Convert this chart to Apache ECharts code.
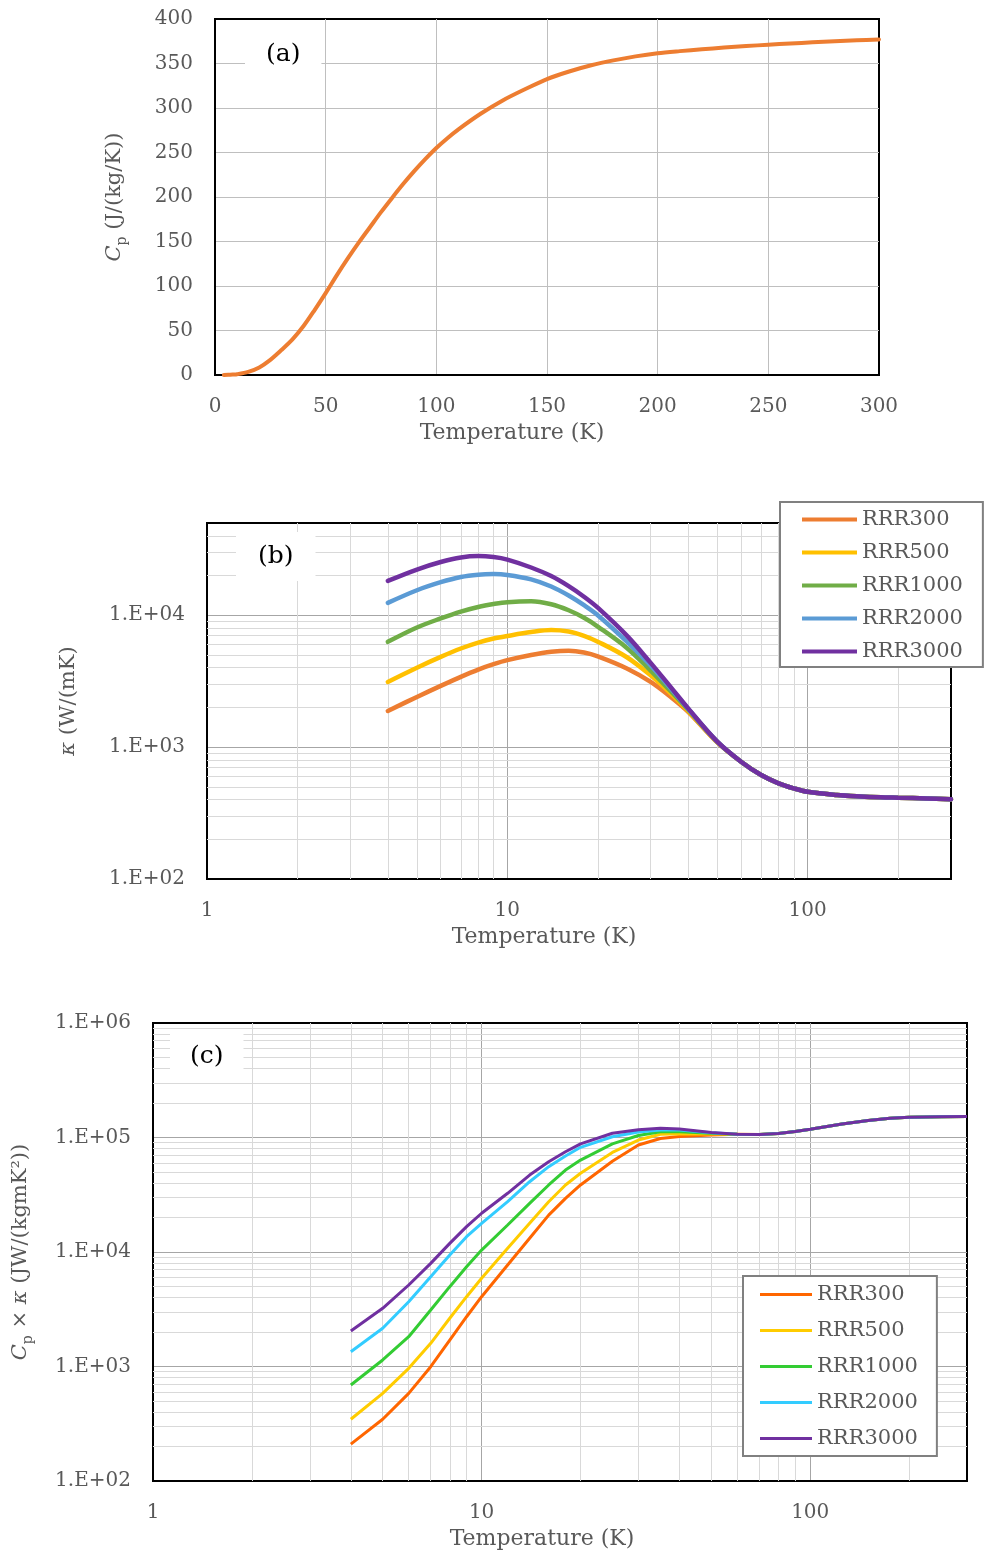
<!DOCTYPE html>
<html>
<head>
<meta charset="utf-8">
<script src="https://cdn.jsdelivr.net/npm/echarts@6/dist/echarts.min.js"></script>
<style>
  html, body { margin: 0; padding: 0; background: #fff; }
  #wrap { position: relative; width: 985px; height: 1557px; }
  .chart { position: absolute; left: 0; width: 985px; }
  #ca { top: 0; height: 470px; }
  #cb { top: 470px; height: 500px; }
  #cc { top: 970px; height: 587px; }
</style>
</head>
<body>
<div id="wrap">
  <div id="ca" class="chart"></div>
  <div id="cb" class="chart"></div>
  <div id="cc" class="chart"></div>
</div>
<script>
// ---- (a) specific heat Cp vs temperature ----
const cpTemp = [4, 6, 8, 10, 15, 20, 25, 30, 35, 40, 45, 50, 55, 60, 65, 70, 75, 80, 85, 90, 95, 100, 105,
  110, 120, 130, 140, 150, 160, 170, 180, 190, 200, 210, 220, 230, 240, 250, 260, 270, 280, 290, 300];
const cpValues = [0.1, 0.2, 0.5, 0.9, 3.5, 8.5, 17, 28, 40, 55, 73, 92, 112, 131, 149, 166, 183, 199, 214.5, 229, 242.5, 255, 266,
  276, 293.5, 308.5, 321, 332.5, 341, 348, 353.5, 358, 361.5, 363.9, 366, 367.9, 369.6, 371.1, 372.5, 373.8, 375, 376.1, 377];

// ---- (b) thermal conductivity kappa vs temperature ----
const rrrNames = ['RRR300', 'RRR500', 'RRR1000', 'RRR2000', 'RRR3000'];
const kTemp = [4, 5, 6, 7, 8, 9, 10, 12, 14, 16, 18, 20, 25, 30, 35, 40, 50,
  60, 70, 80, 90, 100, 125, 150, 175, 200, 250, 300];
const kRRR300 = [1880, 2400, 2910, 3410, 3870, 4250, 4560, 4990, 5280, 5380, 5220, 4880, 3950, 3120, 2400, 1850, 1085,
  775, 614, 531, 486, 458, 433, 422, 416, 413, 408, 403];
const kRRR500 = [3120, 4000, 4830, 5590, 6200, 6650, 6960, 7450, 7720, 7520, 6980, 6300, 4800, 3500, 2550, 1880, 1090,
  775, 614, 531, 486, 458, 433, 422, 416, 413, 408, 403];
const kRRR1000 = [6280, 8070, 9450, 10650, 11550, 12150, 12550, 12750, 12100, 10900, 9550, 8200, 5650, 3800, 2650, 1920, 1095,
  775, 614, 531, 486, 458, 433, 422, 416, 413, 408, 403];
const kRRR2000 = [12400, 15460, 17800, 19500, 20300, 20500, 20200, 18700, 16500, 14100, 11900, 10000, 6300, 4150, 2780, 1950, 1100,
  775, 614, 531, 486, 458, 433, 422, 416, 413, 408, 403];
const kRRR3000 = [18200, 22200, 25300, 27400, 28100, 27600, 26400, 23000, 19800, 16600, 13800, 11400, 7000, 4350, 2850, 1965, 1100,
  775, 614, 531, 486, 458, 433, 422, 416, 413, 408, 403];

// ---- (c) product Cp x kappa vs temperature ----
const pTemp = [4, 5, 6, 7, 8, 9, 10, 12, 14, 16, 18, 20, 25, 30, 35, 40, 50,
  60, 70, 80, 90, 100, 125, 150, 175, 200, 250, 300];
const pRRR300 = [210, 346, 583, 996, 1700, 2720, 4070, 7700, 13200, 21000, 29400, 38500, 62000, 86000, 98000, 102000, 105000,
  106500, 106000, 108500, 113000, 118000, 131000, 141000, 147000, 150000, 152000, 152500];
const pRRR500 = [346, 583, 964, 1595, 2640, 4070, 5890, 10770, 17800, 27500, 38500, 48700, 74000, 95000, 106700, 108000, 107500,
  106500, 106000, 108500, 113000, 118000, 131000, 141000, 147000, 150000, 152000, 152500];
const pRRR1000 = [689, 1140, 1820, 3115, 4980, 7440, 10400, 17200, 26600, 38500, 52000, 63500, 88000, 104000, 112400, 112500, 109000,
  106500, 106000, 108500, 113000, 118000, 131000, 141000, 147000, 150000, 152000, 152500];
const pRRR2000 = [1346, 2155, 3680, 6080, 9420, 13600, 17800, 27500, 41100, 55600, 68900, 82100, 101600, 111500, 116400, 116000, 110000,
  106500, 106000, 108500, 113000, 118000, 131000, 141000, 147000, 150000, 152000, 152500];
const pRRR3000 = [2042, 3223, 5150, 7960, 11900, 16650, 21800, 32560, 47000, 61500, 75100, 88000, 109000, 117000, 120300, 118600, 110500,
  106500, 106000, 108500, 113000, 118000, 131000, 141000, 147000, 150000, 152000, 152500];

// Minor grid positions on the logarithmic axes
const minorTempTicks = [2, 3, 4, 5, 6, 7, 8, 9, 20, 30, 40, 50, 60, 70, 80, 90, 200];
const minorKTicks = [200, 300, 400, 500, 600, 700, 800, 900, 2000, 3000, 4000, 5000, 6000, 7000, 8000, 9000, 20000, 30000, 40000];
const minorPTicks = [200, 300, 400, 500, 600, 700, 800, 900, 2000, 3000, 4000, 5000, 6000, 7000, 8000, 9000,
  20000, 30000, 40000, 50000, 60000, 70000, 80000, 90000, 200000, 300000, 400000, 500000, 600000, 700000, 800000, 900000];

const FONT = 'DejaVu Serif';
const GREY = '#595959';
const colorsB = ['#ED7D31', '#FFC000', '#70AD47', '#5B9BD5', '#7030A0'];
const colorsC = ['#FF6600', '#FFCC00', '#33CC33', '#33CCFF', '#7030A0'];

function pairs(xs, ys) { return xs.map((x, i) => [x, ys[i]]); }

function isPow10(v) {
  const e = Math.log10(v);
  return Math.abs(e - Math.round(e)) < 1e-6;
}
function sciLabel(v) {
  if (!isPow10(v)) return '';
  const r = Math.round(Math.log10(v));
  return '1.E+' + (r < 10 ? '0' + r : String(r));
}
function tempLogLabel(v) {
  return isPow10(v) ? String(Math.round(v)) : '';
}

const labelStyle = { fontFamily: FONT, fontSize: 20, color: GREY };
const nameRich = {
  n: { fontFamily: FONT, fontSize: 21, color: GREY, lineHeight: 28 },
  i: { fontFamily: FONT, fontSize: 21, color: GREY, fontStyle: 'italic', lineHeight: 28 },
  s: { fontFamily: FONT, fontSize: 14, color: GREY, verticalAlign: 'bottom', lineHeight: 13 }
};

function gridSeries(xTicks, yTicks) {
  return {
    type: 'line', data: [], silent: true, z: 1,
    markLine: {
      silent: true, symbol: ['none', 'none'], animation: false, z: 1,
      label: { show: false },
      emphasis: { disabled: true },
      lineStyle: { color: '#d9d9d9', width: 1, type: 'solid' },
      data: xTicks.map(v => ({ xAxis: v })).concat(yTicks.map(v => ({ yAxis: v })))
    }
  };
}

function panelTitle(text, left, top, padding) {
  return {
    text: text, left: left, top: top, padding: padding,
    backgroundColor: '#fff',
    textStyle: { fontFamily: FONT, fontSize: 25, fontWeight: 'normal', color: '#000' }
  };
}

function tempAxisName(padRight) {
  return {
    name: 'Temperature (K)', nameLocation: 'middle', nameGap: 46,
    nameTextStyle: { fontFamily: FONT, fontSize: 22, color: GREY, padding: [0, padRight, 0, 0] }
  };
}

// ---------- chart (a) ----------
const chartA = echarts.init(document.getElementById('ca'));
chartA.setOption({
  animation: false,
  title: panelTitle('(a)', 245, 35, [7, 21, 3, 21]),
  grid: { left: 215, right: 106, top: 19, bottom: 95, show: true, borderColor: '#000', borderWidth: 2 },
  xAxis: Object.assign({
    type: 'value', min: 0, max: 300, interval: 50,
    axisLine: { show: true, lineStyle: { color: '#000', width: 2 } },
    axisTick: { show: false },
    axisLabel: Object.assign({ margin: 22 }, labelStyle),
    splitLine: { show: true, showMinLine: false, showMaxLine: false, lineStyle: { color: '#bfbfbf', width: 1 } }
  }, tempAxisName(70)),
  yAxis: {
    type: 'value', min: 0, max: 400, interval: 50,
    name: '{i|C}{s|p}{n| (J/(kg/K))}', nameLocation: 'middle', nameGap: 86, nameRotate: 90,
    nameTextStyle: { rich: nameRich },
    axisLine: { show: true, lineStyle: { color: '#000', width: 2 } },
    axisTick: { show: false },
    axisLabel: Object.assign({ margin: 22 }, labelStyle),
    splitLine: { show: true, showMinLine: false, showMaxLine: false, lineStyle: { color: '#bfbfbf', width: 1 } }
  },
  series: [{
    type: 'line', data: pairs(cpTemp, cpValues), smooth: 0.3,
    showSymbol: false, symbol: 'none',
    lineStyle: { color: '#ED7D31', width: 4, cap: 'round' }, z: 3
  }]
});

// ---------- chart (b) ----------
const kSeries = [kRRR300, kRRR500, kRRR1000, kRRR2000, kRRR3000];
const chartB = echarts.init(document.getElementById('cb'));
chartB.setOption({
  animation: false,
  title: panelTitle('(b)', 236, 62, [12, 22, 12, 22]),
  legend: {
    data: rrrNames, orient: 'vertical', left: 780, top: 32,
    backgroundColor: '#fff', borderColor: '#808080', borderWidth: 2, borderRadius: 0,
    padding: [7, 20, 5, 22], itemGap: 12, itemWidth: 55, itemHeight: 4, icon: 'rect',
    textStyle: { fontFamily: FONT, fontSize: 21, color: GREY }
  },
  grid: { left: 207, right: 34, top: 53, bottom: 91, show: true, borderColor: '#000', borderWidth: 2 },
  xAxis: Object.assign({
    type: 'log', logBase: 10, min: 1, max: 300,
    axisLine: { show: true, lineStyle: { color: '#000', width: 2 } },
    axisTick: { show: false },
    axisLabel: Object.assign({ margin: 22, formatter: tempLogLabel, showMaxLabel: false }, labelStyle),
    splitLine: { show: true, showMinLine: false, showMaxLine: false, lineStyle: { color: '#a6a6a6', width: 1 } }
  }, tempAxisName(70)),
  yAxis: {
    type: 'log', logBase: 10, min: 100, max: 50000,
    name: '{i|κ}{n| (W/(mK)}', nameLocation: 'middle', nameGap: 124, nameRotate: 90,
    nameTextStyle: { rich: nameRich },
    axisLine: { show: true, lineStyle: { color: '#000', width: 2 } },
    axisTick: { show: false },
    axisLabel: Object.assign({ margin: 22, formatter: sciLabel, showMaxLabel: false }, labelStyle),
    splitLine: { show: true, showMinLine: false, showMaxLine: false, lineStyle: { color: '#a6a6a6', width: 1 } }
  },
  series: [gridSeries(minorTempTicks, minorKTicks)].concat(kSeries.map((vals, i) => ({
    name: rrrNames[i], type: 'line', data: pairs(kTemp, vals), smooth: 0.35,
    showSymbol: false, symbol: 'none', z: 3,
    itemStyle: { color: colorsB[i] },
    lineStyle: { color: colorsB[i], width: 4.5, cap: 'round' }
  })))
});

// ---------- chart (c) ----------
const pSeries = [pRRR300, pRRR500, pRRR1000, pRRR2000, pRRR3000];
const chartC = echarts.init(document.getElementById('cc'));
chartC.setOption({
  animation: false,
  title: panelTitle('(c)', 170, 64, [10, 20, 10, 20]),
  legend: {
    data: rrrNames, orient: 'vertical', left: 743, top: 306,
    backgroundColor: '#fff', borderColor: '#808080', borderWidth: 2, borderRadius: 0,
    padding: [8, 19, 7, 17], itemGap: 15, itemWidth: 52, itemHeight: 3, icon: 'rect',
    textStyle: { fontFamily: FONT, fontSize: 21, color: GREY }
  },
  grid: { left: 153, right: 18, top: 53, bottom: 76, show: true, borderColor: '#000', borderWidth: 2 },
  xAxis: Object.assign({
    type: 'log', logBase: 10, min: 1, max: 300,
    axisLine: { show: true, lineStyle: { color: '#000', width: 2 } },
    axisTick: { show: false },
    axisLabel: Object.assign({ margin: 22, formatter: tempLogLabel, showMaxLabel: false }, labelStyle),
    splitLine: { show: true, showMinLine: false, showMaxLine: false, lineStyle: { color: '#a6a6a6', width: 1 } }
  }, tempAxisName(36)),
  yAxis: {
    type: 'log', logBase: 10, min: 100, max: 1000000,
    name: '{i|C}{s|p}{n| × }{i|κ}{n| (JW/(kgmK²))}', nameLocation: 'middle', nameGap: 118, nameRotate: 90,
    nameTextStyle: { rich: nameRich },
    axisLine: { show: true, lineStyle: { color: '#000', width: 2 } },
    axisTick: { show: false },
    axisLabel: Object.assign({ margin: 22, formatter: sciLabel }, labelStyle),
    splitLine: { show: true, showMinLine: false, showMaxLine: false, lineStyle: { color: '#a6a6a6', width: 1 } }
  },
  series: [gridSeries(minorTempTicks, minorPTicks)].concat(pSeries.map((vals, i) => ({
    name: rrrNames[i], type: 'line', data: pairs(pTemp, vals), smooth: false,
    showSymbol: false, symbol: 'none', z: 3,
    itemStyle: { color: colorsC[i] },
    lineStyle: { color: colorsC[i], width: 3 }
  })))
});
</script>
</body>
</html>
